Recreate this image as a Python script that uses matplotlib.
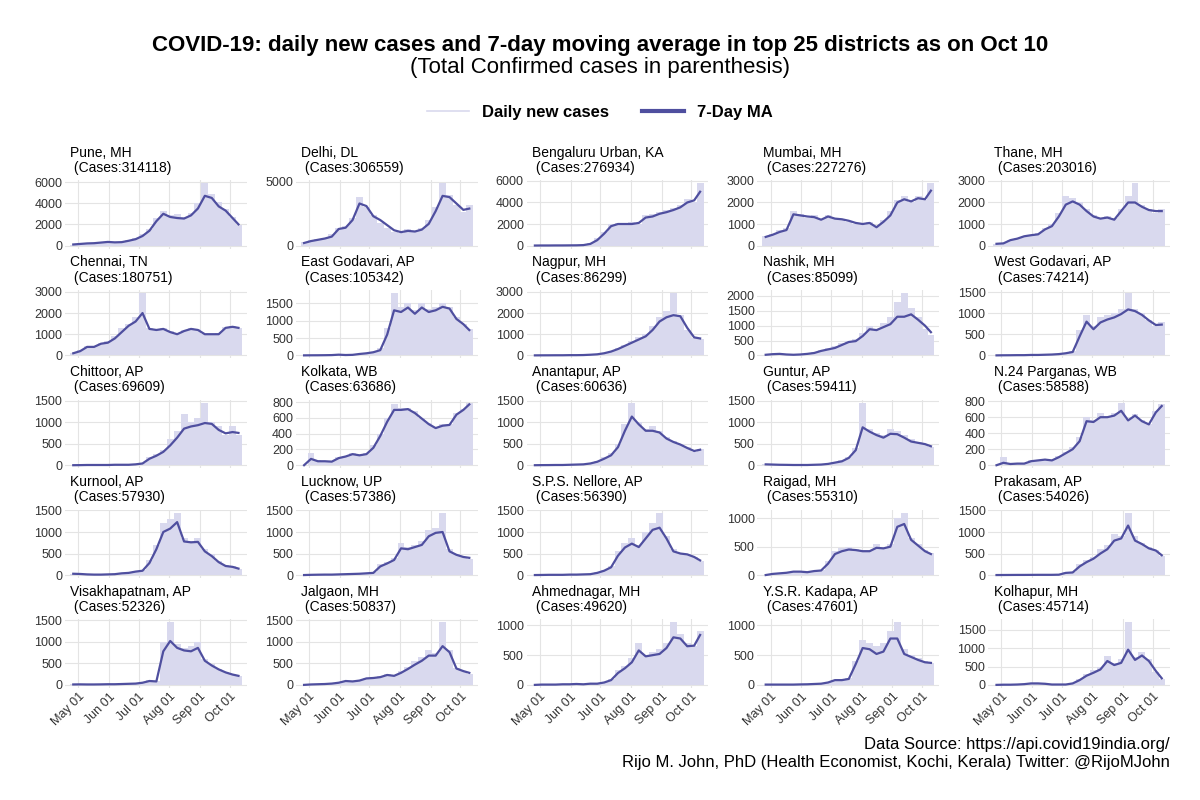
import matplotlib
matplotlib.use("Agg")
import numpy as np
import pandas as pd
import matplotlib.pyplot as plt
from matplotlib.lines import Line2D

plt.rcParams["font.family"] = ["Liberation Sans", "DejaVu Sans"]

# ---------------------------------------------------------------------------
# data (weekly readings, last point = Oct 10)
# ---------------------------------------------------------------------------
dates = pd.to_datetime([
    "2020-04-26", "2020-05-03", "2020-05-10", "2020-05-17", "2020-05-24",
    "2020-05-31", "2020-06-07", "2020-06-14", "2020-06-21", "2020-06-28",
    "2020-07-05", "2020-07-12", "2020-07-19", "2020-07-26", "2020-08-02",
    "2020-08-09", "2020-08-16", "2020-08-23", "2020-08-30", "2020-09-06",
    "2020-09-13", "2020-09-20", "2020-09-27", "2020-10-04", "2020-10-10",
])
month_ticks = pd.to_datetime(["2020-05-01", "2020-06-01", "2020-07-01",
                              "2020-08-01", "2020-09-01", "2020-10-01"])

districts = [
    "Pune, MH", "Delhi, DL", "Bengaluru Urban, KA", "Mumbai, MH", "Thane, MH",
    "Chennai, TN", "East Godavari, AP", "Nagpur, MH", "Nashik, MH", "West Godavari, AP",
    "Chittoor, AP", "Kolkata, WB", "Anantapur, AP", "Guntur, AP", "N.24 Parganas, WB",
    "Kurnool, AP", "Lucknow, UP", "S.P.S. Nellore, AP", "Raigad, MH", "Prakasam, AP",
    "Visakhapatnam, AP", "Jalgaon, MH", "Ahmednagar, MH", "Y.S.R. Kadapa, AP", "Kolhapur, MH",
]
total_cases = [314118, 306559, 276934, 227276, 203016,
               180751, 105342, 86299, 85099, 74214,
               69609, 63686, 60636, 59411, 58588,
               57930, 57386, 56390, 55310, 54026,
               52326, 50837, 49620, 47601, 45714]
y_steps = [2000, 5000, 2000, 1000, 1000,
           1000, 500, 1000, 500, 500,
           500, 200, 500, 500, 200,
           500, 500, 500, 500, 500,
           500, 500, 500, 500, 500]

pune_ma = [100, 150, 200, 220, 280, 340, 300, 320, 450, 600, 900, 1400, 2300, 3000, 2700, 2600, 2550, 2850, 3500, 4700, 4500, 3700, 3300, 2600, 2000]
pune_daily = [90, 180, 230, 260, 300, 380, 280, 350, 520, 700, 1050, 1600, 2600, 3300, 2900, 3000, 2700, 3100, 4000, 5900, 4900, 4100, 3500, 2700, 1900]
delhi_ma = [200, 350, 450, 550, 700, 1300, 1400, 2000, 3300, 3100, 2300, 2000, 1600, 1200, 1050, 1150, 1100, 1250, 1700, 2700, 3900, 3800, 3300, 2800, 2900]
delhi_daily = [250, 400, 500, 600, 900, 1400, 1500, 2200, 3800, 3000, 2400, 1800, 1400, 1100, 1000, 1300, 1100, 1400, 2000, 3000, 4900, 4000, 3200, 2600, 3200]
bengaluru_ma = [0, 5, 5, 10, 10, 15, 20, 40, 150, 500, 1100, 1800, 2000, 2000, 2000, 2100, 2600, 2700, 2950, 3100, 3300, 3550, 4000, 4200, 5000]
bengaluru_daily = [0, 5, 8, 10, 12, 20, 25, 60, 250, 700, 1300, 2000, 2100, 1900, 2200, 2000, 2800, 2900, 3100, 3300, 3500, 3800, 4300, 4000, 5800]
mumbai_ma = [400, 500, 630, 720, 1450, 1400, 1350, 1320, 1200, 1350, 1250, 1220, 1150, 1050, 1000, 1050, 850, 1100, 1400, 2000, 2150, 2050, 2200, 2150, 2550]
mumbai_daily = [450, 550, 700, 800, 1600, 1450, 1300, 1400, 1250, 1400, 1300, 1200, 1100, 1000, 950, 1100, 900, 1200, 1600, 2100, 2300, 2000, 2300, 2100, 2900]
thane_ma = [80, 100, 250, 320, 430, 480, 520, 750, 900, 1350, 1900, 2050, 1900, 1600, 1350, 1250, 1300, 1200, 1600, 2000, 2000, 1800, 1650, 1600, 1600]
thane_daily = [90, 120, 280, 350, 450, 500, 600, 800, 1000, 1500, 2300, 2200, 2000, 1700, 1400, 1300, 1350, 1300, 1700, 2300, 2900, 1900, 1700, 1500, 1700]

chennai_ma = [100, 200, 400, 400, 550, 600, 800, 1100, 1400, 1600, 2000, 1250, 1200, 1250, 1100, 1000, 1150, 1250, 1200, 1000, 1000, 1000, 1300, 1350, 1300]
chennai_daily = [120, 250, 450, 450, 600, 700, 900, 1300, 1500, 1800, 2950, 1300, 1250, 1300, 1150, 1000, 1200, 1300, 1250, 1000, 1000, 1050, 1350, 1400, 1300]
egodavari_ma = [0, 2, 3, 5, 8, 20, 10, 15, 40, 60, 90, 150, 600, 1300, 1250, 1380, 1200, 1380, 1250, 1300, 1400, 1350, 1050, 900, 730]
egodavari_daily = [0, 3, 4, 6, 10, 25, 12, 20, 50, 80, 110, 200, 800, 1800, 1400, 1500, 1300, 1500, 1350, 1400, 1500, 1400, 1100, 900, 750]
nagpur_ma = [0, 2, 3, 5, 5, 10, 10, 15, 30, 50, 100, 180, 300, 450, 600, 750, 900, 1200, 1600, 1800, 1900, 1850, 1300, 850, 800]
nagpur_daily = [0, 3, 4, 6, 6, 12, 12, 20, 40, 60, 120, 200, 350, 500, 700, 850, 1000, 1400, 1800, 2100, 2950, 1900, 1200, 800, 750]
nashik_ma = [20, 40, 50, 30, 20, 30, 50, 80, 150, 200, 250, 350, 450, 480, 650, 880, 850, 950, 1050, 1300, 1300, 1380, 1200, 1000, 780]
nashik_daily = [25, 50, 60, 35, 25, 40, 60, 100, 180, 250, 300, 400, 500, 550, 750, 1000, 900, 1100, 1300, 1800, 2100, 1600, 1300, 900, 700]
wgodavari_ma = [0, 2, 3, 5, 5, 10, 10, 15, 20, 30, 50, 80, 450, 800, 620, 780, 850, 900, 980, 1090, 1050, 960, 830, 720, 730]
wgodavari_daily = [0, 3, 4, 6, 6, 12, 12, 18, 25, 35, 60, 100, 600, 950, 700, 900, 950, 1000, 1100, 1480, 1100, 1000, 850, 700, 800]

chittoor_ma = [0, 2, 5, 5, 5, 5, 10, 10, 10, 20, 40, 150, 220, 310, 460, 640, 850, 900, 930, 980, 960, 820, 740, 770, 750]
chittoor_daily = [0, 3, 6, 6, 6, 6, 12, 12, 12, 25, 50, 180, 260, 350, 600, 800, 1200, 1000, 1100, 1450, 1000, 900, 700, 900, 700]
kolkata_ma = [0, 80, 50, 50, 45, 90, 110, 140, 125, 140, 220, 370, 550, 700, 700, 710, 660, 590, 520, 470, 500, 510, 640, 700, 770]
kolkata_daily = [0, 150, 60, 55, 50, 100, 120, 150, 130, 150, 250, 400, 600, 780, 720, 730, 680, 600, 540, 480, 520, 520, 660, 710, 790]
anantapur_ma = [0, 2, 3, 5, 5, 10, 15, 20, 40, 80, 150, 230, 420, 800, 1130, 950, 800, 800, 760, 620, 540, 480, 400, 330, 360]
anantapur_daily = [0, 3, 4, 6, 6, 12, 18, 25, 50, 100, 180, 280, 500, 950, 1450, 1000, 850, 900, 800, 650, 560, 500, 420, 300, 380]
guntur_ma = [20, 15, 10, 8, 5, 5, 5, 10, 15, 30, 60, 90, 170, 350, 880, 780, 700, 640, 730, 720, 640, 550, 520, 490, 440]
guntur_daily = [25, 18, 12, 10, 6, 6, 6, 12, 18, 35, 70, 110, 200, 400, 1450, 850, 750, 700, 850, 800, 700, 600, 550, 500, 420]
n24parganas_ma = [0, 30, 15, 20, 20, 50, 60, 70, 60, 100, 150, 200, 300, 550, 540, 600, 600, 620, 680, 560, 620, 550, 510, 660, 740]
n24parganas_daily = [0, 100, 20, 25, 25, 60, 70, 80, 70, 110, 170, 230, 350, 600, 560, 650, 620, 650, 780, 580, 640, 560, 520, 680, 760]

kurnool_ma = [30, 25, 15, 10, 10, 15, 20, 40, 50, 80, 100, 280, 600, 1000, 1080, 1230, 780, 760, 770, 550, 440, 300, 210, 190, 150]
kurnool_daily = [35, 30, 18, 12, 12, 18, 25, 45, 60, 90, 120, 350, 700, 1200, 1300, 1450, 850, 800, 850, 600, 480, 320, 230, 200, 140]
lucknow_ma = [0, 5, 8, 10, 10, 15, 20, 25, 30, 40, 50, 200, 270, 350, 620, 600, 650, 700, 900, 980, 1000, 550, 470, 420, 400]
lucknow_daily = [0, 6, 10, 12, 12, 18, 25, 30, 35, 45, 60, 250, 300, 400, 750, 650, 700, 800, 1050, 1100, 1450, 600, 500, 430, 380]
nellore_ma = [0, 2, 5, 5, 5, 10, 10, 15, 20, 50, 100, 180, 450, 640, 730, 650, 850, 1050, 1100, 850, 550, 500, 480, 420, 340]
nellore_daily = [0, 3, 6, 6, 6, 12, 12, 18, 25, 60, 120, 220, 550, 750, 850, 700, 1000, 1200, 1450, 900, 600, 520, 500, 430, 320]
raigad_ma = [0, 20, 30, 40, 60, 60, 50, 70, 80, 200, 370, 420, 450, 440, 420, 420, 480, 470, 500, 850, 900, 620, 520, 420, 370]
raigad_daily = [0, 25, 35, 45, 70, 65, 55, 80, 90, 250, 420, 480, 500, 460, 450, 450, 550, 500, 550, 1000, 1100, 650, 550, 450, 380]
prakasam_ma = [0, 1, 2, 3, 3, 4, 5, 5, 5, 8, 50, 60, 200, 300, 380, 500, 600, 800, 850, 1150, 800, 720, 620, 570, 460]
prakasam_daily = [0, 1, 2, 3, 3, 5, 6, 6, 6, 10, 60, 70, 250, 350, 420, 600, 700, 950, 900, 1450, 900, 750, 650, 580, 450]

visakhapatnam_ma = [10, 12, 10, 10, 12, 15, 15, 20, 25, 30, 50, 90, 80, 780, 1020, 860, 800, 780, 860, 560, 450, 360, 290, 240, 210]
visakhapatnam_daily = [12, 14, 12, 12, 14, 18, 18, 25, 30, 35, 60, 120, 100, 1000, 1450, 950, 850, 900, 1000, 600, 480, 380, 300, 250, 200]
jalgaon_ma = [0, 10, 15, 20, 30, 50, 90, 80, 100, 150, 160, 180, 230, 210, 280, 370, 470, 560, 680, 680, 900, 760, 380, 320, 280]
jalgaon_daily = [0, 12, 18, 25, 35, 60, 100, 90, 120, 170, 180, 200, 260, 240, 320, 420, 550, 650, 800, 750, 1450, 800, 400, 330, 250]
ahmednagar_ma = [0, 5, 5, 5, 10, 10, 15, 10, 20, 20, 40, 80, 200, 280, 380, 580, 480, 500, 520, 620, 800, 780, 650, 660, 840]
ahmednagar_daily = [0, 6, 6, 6, 12, 12, 18, 12, 25, 25, 50, 100, 250, 320, 450, 700, 500, 550, 600, 700, 1050, 850, 700, 650, 900]
kadapa_ma = [5, 5, 5, 5, 5, 8, 10, 15, 20, 40, 80, 80, 100, 350, 620, 600, 520, 560, 780, 780, 520, 470, 420, 380, 370]
kadapa_daily = [6, 6, 6, 6, 6, 10, 12, 18, 25, 50, 90, 90, 120, 400, 750, 700, 650, 700, 900, 1050, 600, 500, 450, 400, 360]
kolhapur_ma = [0, 5, 5, 10, 20, 40, 40, 30, 10, 10, 10, 40, 130, 250, 330, 420, 650, 540, 600, 960, 680, 800, 650, 380, 180]
kolhapur_daily = [0, 6, 6, 12, 25, 50, 50, 35, 12, 12, 12, 50, 150, 300, 400, 500, 800, 600, 700, 1700, 750, 900, 700, 350, 150]

ma_series = [pune_ma, delhi_ma, bengaluru_ma, mumbai_ma, thane_ma,
             chennai_ma, egodavari_ma, nagpur_ma, nashik_ma, wgodavari_ma,
             chittoor_ma, kolkata_ma, anantapur_ma, guntur_ma, n24parganas_ma,
             kurnool_ma, lucknow_ma, nellore_ma, raigad_ma, prakasam_ma,
             visakhapatnam_ma, jalgaon_ma, ahmednagar_ma, kadapa_ma, kolhapur_ma]
daily_series = [pune_daily, delhi_daily, bengaluru_daily, mumbai_daily, thane_daily,
                chennai_daily, egodavari_daily, nagpur_daily, nashik_daily, wgodavari_daily,
                chittoor_daily, kolkata_daily, anantapur_daily, guntur_daily, n24parganas_daily,
                kurnool_daily, lucknow_daily, nellore_daily, raigad_daily, prakasam_daily,
                visakhapatnam_daily, jalgaon_daily, ahmednagar_daily, kadapa_daily, kolhapur_daily]

BAR_COLOR = "#d9d9ee"
LINE_COLOR = "#4f4f9f"
GRID_COLOR = "#e4e4e4"

# ---------------------------------------------------------------------------
# figure
# ---------------------------------------------------------------------------
fig = plt.figure(figsize=(12, 8), dpi=100)
gs = fig.add_gridspec(5, 5, left=65 / 1200, right=1170 / 1200,
                      top=1 - 180 / 800, bottom=1 - 688 / 800,
                      wspace=0.27, hspace=0.6)

span = dates[-1] - dates[0]
for i, name in enumerate(districts):
    ax = fig.add_subplot(gs[i // 5, i % 5])
    daily = np.asarray(daily_series[i], dtype=float)
    ma = np.asarray(ma_series[i], dtype=float)

    # weekly readings drawn as touching bars
    ax.bar(dates, daily, width=7, color=BAR_COLOR, lw=0, zorder=2)
    ax.plot(dates, ma, color=LINE_COLOR, lw=1.6, zorder=3)

    top = daily.max()
    ax.set_ylim(-0.05 * top, 1.05 * top)
    ax.set_xlim(dates[0] - 0.05 * span, dates[-1] + 0.05 * span)
    ax.set_yticks(np.arange(0, 1.05 * top + 1, y_steps[i]))
    ax.set_yticklabels([f"{int(v)}" for v in ax.get_yticks()])
    ax.set_xticks(month_ticks)

    ax.grid(color=GRID_COLOR, lw=0.8)
    ax.set_axisbelow(True)
    for s in ax.spines.values():
        s.set_visible(False)
    ax.tick_params(length=0, labelsize=9, colors="#333333", pad=2)

    if i >= 20:
        ax.set_xticklabels([d.strftime("%b %d") for d in month_ticks],
                           rotation=45, ha="right", rotation_mode="anchor")
    else:
        ax.set_xticklabels([])

    ax.set_title(f"{name}\n (Cases:{total_cases[i]})", loc="left",
                 fontsize=10, pad=6, linespacing=1.1, x=0.03)

# titles
fig.text(0.5, 1 - 45 / 800,
         "COVID-19: daily new cases and 7-day moving average in top 25 districts as on Oct 10",
         ha="center", va="center", fontsize=16, fontweight="bold")
fig.text(0.5, 1 - 68 / 800, "(Total Confirmed cases in parenthesis)",
         ha="center", va="center", fontsize=16)

# legend
handles = [Line2D([0], [0], color=BAR_COLOR, lw=1.2),
           Line2D([0], [0], color=LINE_COLOR, lw=3)]
fig.legend(handles, ["Daily new cases", "7-Day MA"], loc="center",
           bbox_to_anchor=(0.5, 1 - 112 / 800), ncol=2, frameon=False,
           prop={"weight": "bold", "size": 12}, handlelength=2.5,
           columnspacing=2.0)

# footer
fig.text(1170 / 1200, 1 - 745 / 800, "Data Source: https://api.covid19india.org/",
         ha="right", va="center", fontsize=12)
fig.text(1170 / 1200, 1 - 763 / 800,
         "Rijo M. John, PhD (Health Economist, Kochi, Kerala) Twitter: @RijoMJohn",
         ha="right", va="center", fontsize=12)

fig.savefig("out.png", dpi=100, facecolor="white")
